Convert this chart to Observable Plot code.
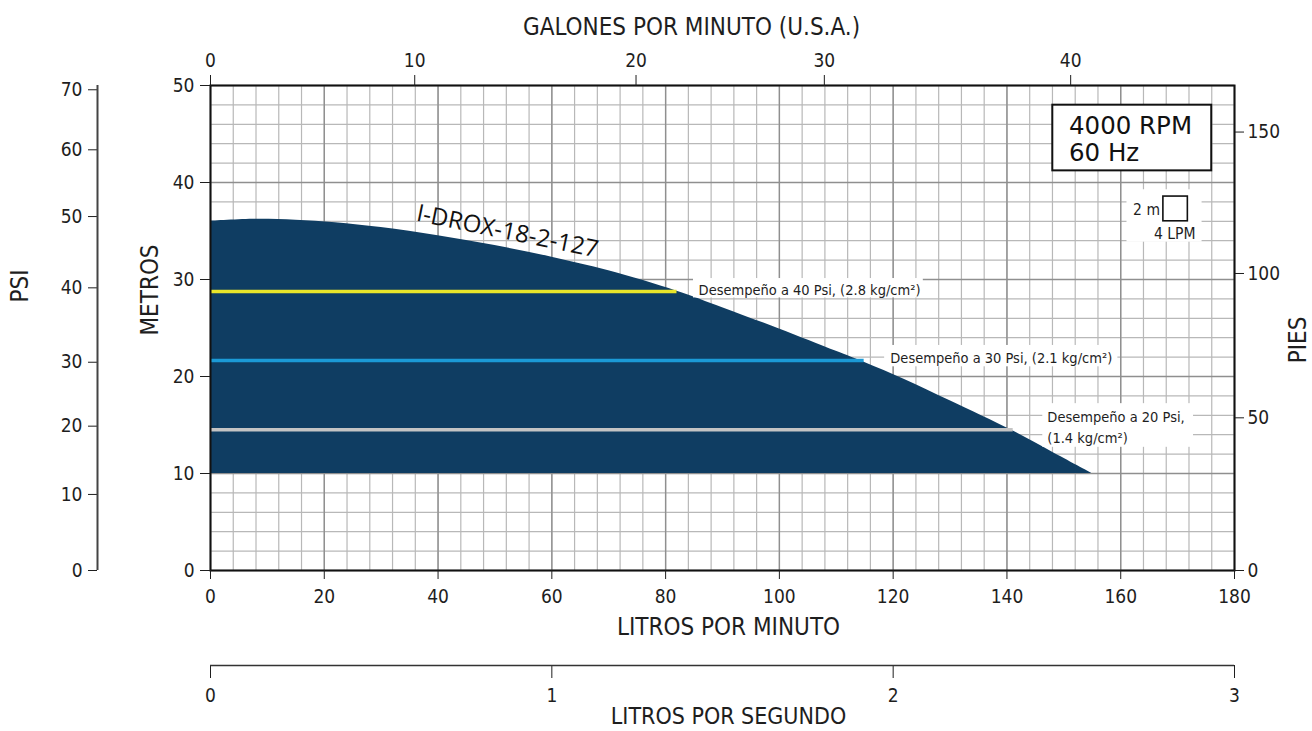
<!DOCTYPE html>
<html><head><meta charset="utf-8">
<script src="https://cdn.jsdelivr.net/npm/d3@7"></script>
<script src="https://cdn.jsdelivr.net/npm/@observablehq/plot@0.6"></script>
<style>body{margin:0;background:#fff}</style>
</head><body><div id="chart"></div>
<script>
// ---------- data ----------
const curveLpm  = [0, 8, 15, 22, 30, 40, 50, 60, 70, 82, 90, 100, 110, 115, 122, 130, 141, 148, 155];
const curveHead = [36.0, 36.2, 36.1, 35.85, 35.35, 34.5, 33.5, 32.3, 30.9, 28.8, 27.1, 24.9, 22.6, 21.45, 19.7, 17.5, 14.4, 12.2, 10.0];
const curveBase = 10;
const pumpModel = "I-DROX-18-2-127";

const perfHead  = [28.76, 21.65, 14.5];
const perfEnd   = [82, 114.9, 141.1];
const perfLabels = ["Desempeño a 40 Psi, (2.8 kg/cm²)", "Desempeño a 30 Psi, (2.1 kg/cm²)", "Desempeño a 20 Psi,\n(1.4 kg/cm²)"];

const lpmTicks    = [0, 20, 40, 60, 80, 100, 120, 140, 160, 180];
const metrosTicks = [0, 10, 20, 30, 40, 50];
const galLabels   = [0, 10, 20, 30, 40];
const galAtLpm    = [0, 35.9, 74.8, 107.9, 151.2];
const psiLabels   = [0, 10, 20, 30, 40, 50, 60, 70];
const psiAtMeters = [0, 7.84, 14.88, 21.47, 29.14, 36.49, 43.37, 49.56];
const piesLabels  = [0, 50, 100, 150];
const piesAtMeters = [0, 15.74, 30.62, 45.2];
const lpsLabels   = [0, 1, 2, 3];
const rpmLines = ["4000 RPM", "60 Hz"];
const scaleLabels = ["2 m", "4 LPM"];

// ---------- styles / layout ----------
const narrow = '"Liberation Sans Narrow","Arial Narrow","DejaVu Sans Condensed",sans-serif';
const wide = '"DejaVu Sans",sans-serif';
const wide2 = '"Open Sans","DejaVu Sans",sans-serif';
const navy = "#0f3d62";
const perfColors = ["#e8e52a", "#1b9ad6", "#c4c4c4"];
const ink = "#1e1e1e";

const curve = curveLpm.map((q, i) => ({q, h: curveHead[i]}));
const perf = perfHead.map((h, i) => ({h, x2: perfEnd[i]}));
const galMap = new Map(galAtLpm.map((v, i) => [v, galLabels[i]]));
const psiMap = new Map(psiAtMeters.map((v, i) => [v, psiLabels[i]]));
const piesMap = new Map(piesAtMeters.map((v, i) => [v, piesLabels[i]]));

const labelBoxes = [
  {x1: 84.9, x2: 125.3, y1: 28.1, y2: 30.1},
  {x1: 118.5, x2: 159.5, y1: 21.0, y2: 23.2},
  {x1: 146.3, x2: 172.8, y1: 12.7, y2: 17.2},
  {x1: 161.1, x2: 174.3, y1: 33.85, y2: 39.25}
];
const labelPos = [{x: 85.8, y: 29.07}, {x: 119.5, y: 22.16}, {x: 147.1, y: 14.95}];
const rpmPos = [{x: 150.9, y: 45.82}, {x: 150.9, y: 43.0}];
const center = {textAnchor: "middle", lineAnchor: "middle", fontSize: 24, fill: ink};

const chart = Plot.plot({
  width: 1312, height: 731,
  marginLeft: 210, marginRight: 78, marginTop: 85, marginBottom: 161,
  x: {domain: [0, 180], axis: null},
  y: {domain: [0, 50], axis: null},
  style: {fontFamily: narrow, color: ink, background: "white"},
  marks: [
    Plot.gridY(d3.range(0, 51, 2), {stroke: "#b8b8b8", strokeOpacity: 1, strokeWidth: 1.2}),
    Plot.gridX(d3.range(0, 181, 4), {stroke: "#b8b8b8", strokeOpacity: 1, strokeWidth: 1.2}),
    Plot.gridY(metrosTicks, {stroke: "#8f8f8f", strokeOpacity: 1, strokeWidth: 1.4}),
    Plot.gridX(lpmTicks, {stroke: "#8f8f8f", strokeOpacity: 1, strokeWidth: 1.4}),
    Plot.areaY(curve, {x: "q", y1: curveBase, y2: "h", curve: "catmull-rom", fill: navy}),
    ...perf.map((p, i) => Plot.ruleY([p], {y: "h", x1: 0, x2: "x2", stroke: perfColors[i], strokeWidth: 3.5})),
    Plot.rect(labelBoxes, {x1: "x1", x2: "x2", y1: "y1", y2: "y2", fill: "white"}),
    Plot.text(labelPos.map((p, i) => ({...p, t: perfLabels[i]})), {x: "x", y: "y", text: "t", textAnchor: "start", fontSize: 14.5, lineHeight: 1.5, fill: ink}),
    Plot.text([pumpModel], {x: 52.2, y: 34.95, text: d => d, rotate: 11.5, fontSize: 24, fontFamily: wide2, fill: "#111"}),
    // RPM box
    Plot.rect([0], {x1: 148.06, x2: 176.0, y1: 41.2, y2: 47.97, fill: "white", stroke: "#111", strokeWidth: 2}),
    Plot.text(rpmPos.map((p, i) => ({...p, t: rpmLines[i]})), {x: "x", y: "y", text: "t", textAnchor: "start", fontSize: 24.5, fontFamily: wide, fill: "#111"}),
    // scale legend
    Plot.rect([0], {x1: 167.5, x2: 171.8, y1: 36.0, y2: 38.55, fill: "white", stroke: "#111", strokeWidth: 1.6}),
    Plot.text([scaleLabels[0]], {x: 166.9, y: 37.2, text: d => d, textAnchor: "end", fontSize: 15.5, fill: ink}),
    Plot.text([scaleLabels[1]], {x: 169.5, y: 34.7, text: d => d, textAnchor: "middle", fontSize: 15.5, fill: ink}),
    Plot.frame({stroke: "#111", strokeWidth: 2}),
    // axes
    Plot.axisX(lpmTicks, {anchor: "bottom", tickSize: 9, tickPadding: 10, fontSize: 19, label: null}),
    Plot.axisX(lpsLabels.map(v => v * 60), {anchor: "bottom", tickFormat: d => d / 60, tickSize: 13, tickPadding: 10, dy: 95, fontSize: 19, label: null}),
    Plot.ruleY([0], {dy: 95, stroke: "#333", strokeWidth: 1.5}),
    Plot.axisX(galAtLpm, {anchor: "top", tickFormat: d => galMap.get(d), tickSize: 11, tickPadding: 8, fontSize: 19, label: null}),
    Plot.axisY(metrosTicks, {anchor: "left", tickSize: 10, tickPadding: 6, fontSize: 19, label: null}),
    Plot.axisY(piesAtMeters, {anchor: "right", tickFormat: d => piesMap.get(d), tickSize: 9, tickPadding: 4, fontSize: 19, label: null}),
    Plot.axisY(psiAtMeters, {anchor: "left", tickFormat: d => psiMap.get(d), dx: -113, tickSize: 9, tickPadding: 6, fontSize: 19, label: null}),
    Plot.ruleX([0], {y1: 0, y2: 50, dx: -113, stroke: "#444", strokeWidth: 2}),
    // titles
    Plot.text(["GALONES POR MINUTO (U.S.A.)"], {frameAnchor: "top", dx: -31, dy: -58, text: d => d, ...center}),
    Plot.text(["LITROS POR MINUTO"], {frameAnchor: "bottom", dx: 6, dy: 57, text: d => d, ...center}),
    Plot.text(["LITROS POR SEGUNDO"], {frameAnchor: "bottom", dx: 6, dy: 146, text: d => d, ...center, fontSize: 23}),
    Plot.text(["METROS"], {frameAnchor: "left", dx: -60, dy: -38, rotate: -90, text: d => d, ...center}),
    Plot.text(["PSI"], {frameAnchor: "left", dx: -190, dy: -42, rotate: -90, text: d => d, ...center}),
    Plot.text(["PIES"], {frameAnchor: "right", dx: 64, dy: 12, rotate: -90, text: d => d, ...center})
  ]
});
document.getElementById("chart").append(chart);
</script>
</body></html>
